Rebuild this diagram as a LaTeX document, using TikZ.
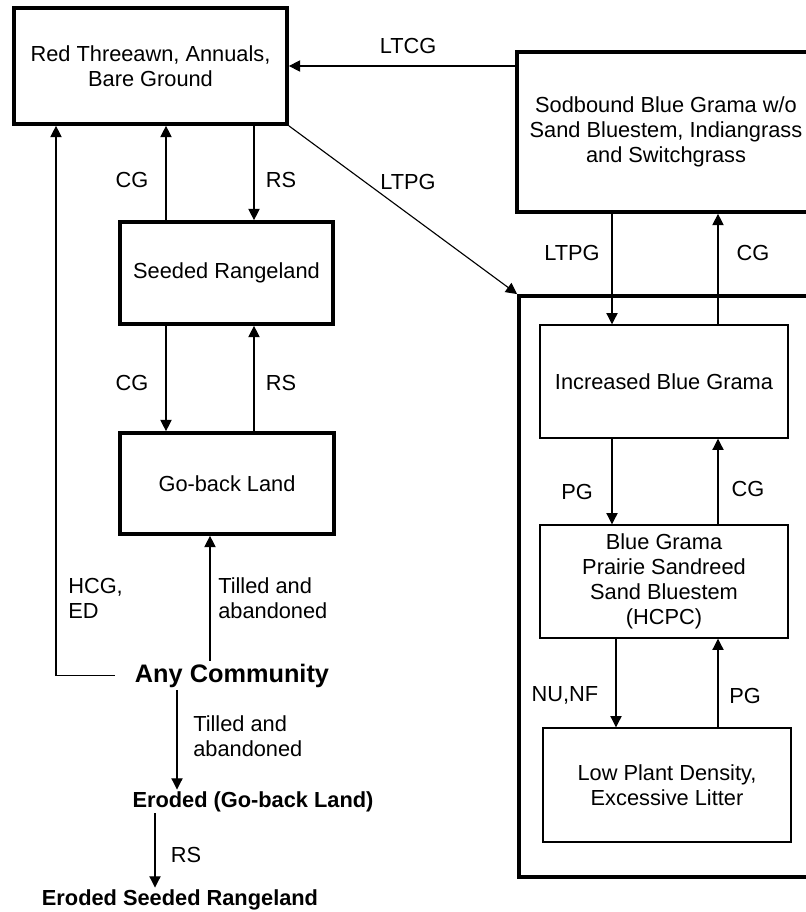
\documentclass[tikz,border=0pt]{standalone}
\usepackage{fontspec}
\setmainfont{Liberation Sans}
\usetikzlibrary{arrows.meta}

\begin{document}
\begin{tikzpicture}[x=0.025cm,y=-0.025cm,
  every node/.style={font=\fontsize{15.5pt}{17.8pt}\selectfont, align=center},
  thickbox/.style={draw, line width=2.6pt, inner sep=0pt},
  thinbox/.style={draw, line width=1pt, inner sep=0pt},
  arr/.style={line width=0.8pt, -{Triangle[length=8pt,width=8pt]}},
  lbl/.style={inner sep=0pt},
  boldtext/.style={font=\fontsize{15.5pt}{17.8pt}\selectfont\bfseries, inner sep=1pt, anchor=base}]
  \useasboundingbox (0,0) rectangle (805,912);
  % states
  \node[thickbox, minimum width=6.825cm, minimum height=2.9cm] (red) at (150.5,66) {Red Threeawn, Annuals,\\Bare Ground};
  \node[thickbox, minimum width=7.45cm, minimum height=4cm] (sod) at (666,132) {Sodbound Blue Grama w/o\\Sand Bluestem, Indiangrass\\and Switchgrass};
  \node[thickbox, minimum width=5.325cm, minimum height=2.55cm] (seeded) at (226.5,273) {Seeded Rangeland};
  \node[thickbox, minimum width=5.35cm, minimum height=2.525cm] (goback) at (227,483.5) {Go-back Land};
  \node[thickbox, minimum width=7.4cm, minimum height=14.525cm] (group) at (667,586.5) {};
  \node[thinbox, minimum width=6.2cm, minimum height=2.825cm] (incr) at (664,381.5) {Increased Blue Grama};
  \node[thinbox, minimum width=6.2cm, minimum height=2.825cm] (hcpc) at (664,581.5) {Blue Grama\\Prairie Sandreed\\Sand Bluestem\\(HCPC)};
  \node[thinbox, minimum width=6.2cm, minimum height=2.85cm] (low) at (667,785) {Low Plant Density,\\Excessive Litter};
  \node[font=\fontsize{18pt}{20pt}\selectfont\bfseries, anchor=base, inner xsep=0.5cm, inner ysep=2pt] (any) at (232,682) {Any Community};
  \node[boldtext] (eroded) at (253,807) {Eroded (Go-back Land)};
  \node[boldtext] (erseed) at (180,905) {Eroded Seeded Rangeland};
  % columns for the vertical arrows
  \coordinate (cL) at (166,0);
  \coordinate (cR) at (254,0);
  \coordinate (hcg) at (56,0);
  \coordinate (tu) at (210,0);
  \coordinate (td) at (177,0);
  \coordinate (rs) at (155,0);
  \coordinate (rL) at (612,0);
  \coordinate (rR) at (718,0);
  \coordinate (nu) at (616,0);
  % transitions
  \draw[arr] (sod.west |- red.east) -- (red.east);
  \draw[arr] (red.south east) -- (group.north west);
  \draw[arr] (seeded.north -| cL) -- (red.south -| cL);
  \draw[arr] (red.south -| cR) -- (seeded.north -| cR);
  \draw[arr] (seeded.south -| cL) -- (goback.north -| cL);
  \draw[arr] (goback.north -| cR) -- (seeded.south -| cR);
  \draw[arr] (any.west) -| (red.south -| hcg);
  \draw[arr] (any.north -| tu) -- (goback.south -| tu);
  \draw[arr] (any.south -| td) -- (eroded.north -| td);
  \draw[arr] (eroded.south -| rs) -- (erseed.north -| rs);
  \draw[arr] (sod.south -| rL) -- (incr.north -| rL);
  \draw[arr] (incr.north -| rR) -- (sod.south -| rR);
  \draw[arr] (incr.south -| rL) -- (hcpc.north -| rL);
  \draw[arr] (hcpc.north -| rR) -- (incr.south -| rR);
  \draw[arr] (hcpc.south -| nu) -- (low.north -| nu);
  \draw[arr] (low.north -| rR) -- (hcpc.south -| rR);
  % labels
  \node[lbl] (l1) at (408,46) {LTCG};
  \node[lbl] (l2) at (408,182) {LTPG};
  \node[lbl] (l3) at (132,180) {CG};
  \node[lbl] (l4) at (281,180) {RS};
  \node[lbl] (l5) at (132,383) {CG};
  \node[lbl] (l6) at (281,383) {RS};
  \node[lbl, anchor=west, align=left] (l7) at (68,598) {HCG,\\ED};
  \node[lbl, anchor=west, align=left] (l8) at (218,598) {Tilled and\\abandoned};
  \node[lbl, anchor=west, align=left] (l9) at (193,736) {Tilled and\\abandoned};
  \node[lbl] (l10) at (186,855) {RS};
  \node[lbl] (l11) at (572,253) {LTPG};
  \node[lbl] (l12) at (753,253) {CG};
  \node[lbl] (l13) at (577,492) {PG};
  \node[lbl] (l14) at (748,489) {CG};
  \node[lbl] (l15) at (565,695) {NU,NF};
  \node[lbl] (l16) at (745,696) {PG};
\end{tikzpicture}
\end{document}
